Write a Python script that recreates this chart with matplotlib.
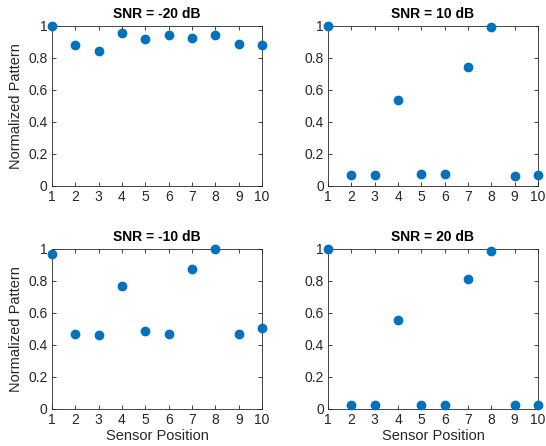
import matplotlib

matplotlib.use("Agg")
import matplotlib.pyplot as plt

plt.rcParams["font.family"] = ["Liberation Sans", "DejaVu Sans"]

positions = [1, 2, 3, 4, 5, 6, 7, 8, 9, 10]
titles = ["SNR = -20 dB", "SNR = 10 dB", "SNR = -10 dB", "SNR = 20 dB"]
snr_m20 = [1.0, 0.88, 0.845, 0.955, 0.92, 0.94, 0.925, 0.945, 0.885, 0.88]
snr_10 = [1.0, 0.07, 0.068, 0.54, 0.072, 0.073, 0.74, 0.99, 0.065, 0.068]
snr_m10 = [0.97, 0.47, 0.462, 0.767, 0.488, 0.47, 0.877, 1.0, 0.467, 0.503]
snr_20 = [1.0, 0.025, 0.027, 0.557, 0.027, 0.027, 0.812, 0.985, 0.025, 0.025]
series = [snr_m20, snr_10, snr_m10, snr_20]

fig = plt.figure(figsize=(5.46, 4.46), dpi=100)
boxes = [
    (0.095, 0.583, 0.385, 0.359),
    (0.601, 0.583, 0.384, 0.359),
    (0.095, 0.083, 0.385, 0.359),
    (0.601, 0.083, 0.384, 0.359),
]
ink = "#262626"

for i, (box, title, vals) in enumerate(zip(boxes, titles, series)):
    ax = fig.add_axes(box)
    ax.plot(positions, vals, "o", color="#0072BD", markersize=6, clip_on=False, zorder=3)
    ax.set_xlim(1, 10)
    ax.set_ylim(0, 1)
    ax.set_xticks(positions)
    ax.set_yticks([0, 0.2, 0.4, 0.6, 0.8, 1])
    ax.set_yticklabels(["0", "0.2", "0.4", "0.6", "0.8", "1"])
    ax.tick_params(direction="in", top=True, right=True, length=3, width=0.6,
                   colors=ink, labelsize=10, pad=3)
    for sp in ax.spines.values():
        sp.set_color(ink)
        sp.set_linewidth(0.6)
    ax.set_title(title, fontsize=10, fontweight="bold", pad=6)
    if i % 2 == 0:
        ax.set_ylabel("Normalized Pattern", fontsize=10.5, color=ink)
    if i >= 2:
        ax.set_xlabel("Sensor Position", fontsize=10.5, color=ink, labelpad=1)

fig.savefig("out.png", dpi=100)
plt.close(fig)
